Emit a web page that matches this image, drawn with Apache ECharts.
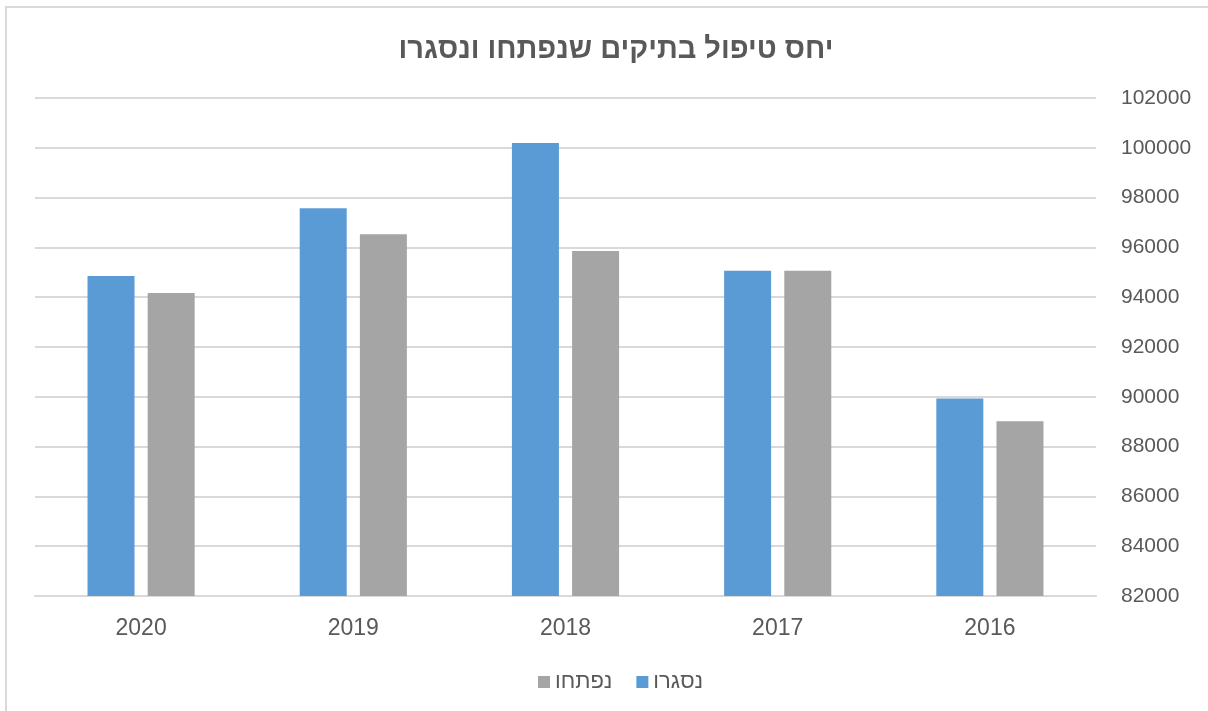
<!DOCTYPE html>
<html>
<head>
<meta charset="utf-8">
<script src="https://cdn.jsdelivr.net/npm/echarts@6/dist/echarts.min.js"></script>
<style>
  html, body { margin: 0; padding: 0; background: #fff; }
  #chart { width: 1208px; height: 711px; }
</style>
</head>
<body>
<div id="chart"></div>
<script>
// 数据
var years = ['2020', '2019', '2018', '2017', '2016'];
var closedValues = [94850, 97570, 100190, 95060, 89930]; // נסגרו
var openedValues = [94170, 96530, 95860, 95060, 89020];  // נפתחו
var seriesNames = ['נסגרו', 'נפתחו'];
var yMin = 82000, yMax = 102000, yStep = 2000;

var textColor = '#595959';
var font = '"Liberation Sans", Arial, sans-serif';

var chart = echarts.init(document.getElementById('chart'));
var option = {
  animation: false,
  backgroundColor: '#fff',
  graphic: [{
    type: 'rect',
    shape: { x: 6, y: 7, width: 1220, height: 720 },
    style: { fill: 'none', stroke: '#d9d9d9', lineWidth: 2 },
    silent: true
  }],
  title: {
    text: 'יחס טיפול בתיקים שנפתחו ונסגרו',
    left: 611,
    top: 30,
    textAlign: 'center',
    textStyle: { color: textColor, fontSize: 29, fontWeight: 'bold', fontFamily: font }
  },
  legend: {
    data: [seriesNames[1], seriesNames[0]],
    left: 533,
    top: 666,
    itemWidth: 12,
    itemHeight: 12,
    itemGap: 24,
    icon: 'rect',
    textStyle: { color: textColor, fontSize: 22, fontFamily: font }
  },
  grid: { left: 35, right: 112, top: 98, bottom: 115 },
  xAxis: {
    type: 'category',
    data: years,
    axisLine: { lineStyle: { color: '#d9d9d9', width: 2 } },
    axisTick: { show: false },
    axisLabel: { color: textColor, fontSize: 23, fontFamily: font, margin: 21 }
  },
  yAxis: {
    type: 'value',
    position: 'right',
    min: yMin,
    max: yMax,
    interval: yStep,
    axisLine: { show: false },
    axisTick: { show: false },
    axisLabel: {
      color: textColor, fontSize: 21, fontFamily: font, margin: 25,
      formatter: function (v) { return String(v); }
    },
    splitLine: { lineStyle: { color: '#d9d9d9', width: 2 } }
  },
  series: [{
    name: seriesNames[0],
    type: 'bar',
    data: closedValues,
    barWidth: 47,
    barGap: '28%',
    itemStyle: { color: '#5b9bd5' }
  }, {
    name: seriesNames[1],
    type: 'bar',
    data: openedValues,
    barWidth: 47,
    barGap: '28%',
    itemStyle: { color: '#a5a5a5' }
  }]
};
chart.setOption(option);
</script>
</body>
</html>
